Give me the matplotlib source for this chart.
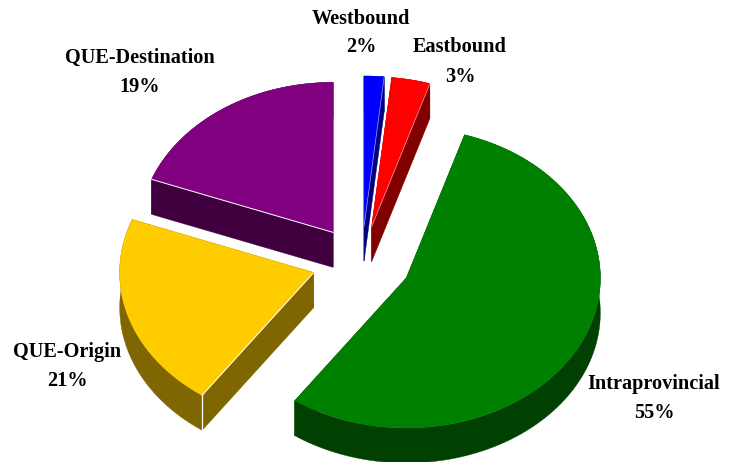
from matplotlib import pyplot as plt
from matplotlib.patches import Polygon
import numpy as np

labels = ['Westbound', 'Eastbound', 'Intraprovincial', 'QUE-Origin', 'QUE-Destination']
# slice sizes, the printed labels are rounded
shares = [1.65, 3.2, 54.9, 21.0, 19.25]
percent_labels = ['2%', '3%', '55%', '21%', '19%']
top_colors = ['#0000ff', '#ff0000', '#008000', '#ffcc00', '#800080']
side_colors = ['#000080', '#800000', '#004000', '#806600', '#400040']

# label centres in pixels, name line then percent line is 29px below
label_pos = [(361, 18.5), (460, 47.5), (654, 383.5), (67, 351.5), (140, 57.5)]

cx, cy = 361.5, 262
rx, ry = 194, 150
explode_x, explode_y = 50, 36
depth = 35

# back slices first so the front ones cover them
draw_order = [4, 0, 1, 3, 2]


def slice_outline(start, end, ox, oy):
    t = np.radians(np.linspace(start, end, 120))
    return ox + rx*np.sin(t), oy - ry*np.cos(t)


fig = plt.figure(figsize=(7.33, 4.62), dpi=100)
ax = fig.add_axes([0, 0, 1, 1])
ax.set_xlim(0, 733)
ax.set_ylim(462, 0)
ax.axis('off')

edges = 360*np.cumsum([0] + shares)/np.sum(shares)

for i in draw_order:
    start, end = edges[i], edges[i+1]
    mid = np.radians((start+end)/2)
    ox = cx + explode_x*np.sin(mid)
    oy = cy - explode_y*np.cos(mid)
    x, y = slice_outline(start, end, ox, oy)

    # sides: two radial walls and the outer rim
    for ex, ey in [(x[0], y[0]), (x[-1], y[-1])]:
        wall = [(ox, oy), (ex, ey), (ex, ey+depth), (ox, oy+depth)]
        ax.add_patch(Polygon(wall, closed=True, fc=side_colors[i], ec=side_colors[i], lw=0.3))
    rim = np.r_[np.c_[x, y], np.c_[x, y+depth][::-1]]
    ax.add_patch(Polygon(rim, closed=True, fc=side_colors[i], ec=side_colors[i], lw=0.3))

    top = np.r_[[[ox, oy]], np.c_[x, y]]
    ax.add_patch(Polygon(top, closed=True, fc=top_colors[i], ec=top_colors[i], lw=0.3))

    # thin white highlight where the top meets a visible wall
    if i == 3:
        ax.plot([ox, x[0]], [oy, y[0]], color='white', lw=0.7)
        ax.plot([x[0], x[0]], [y[0], y[0]+depth], color='white', lw=0.9)
    elif i == 4:
        ax.plot([ox, x[0]], [oy, y[0]], color='white', lw=0.7)
    elif i in (0, 1):
        ax.plot([ox, x[-1]], [oy, y[-1]], color='white', lw=0.5, alpha=0.6)

for name, pct, (lx, ly) in zip(labels, percent_labels, label_pos):
    ax.text(lx, ly, name, ha='center', va='center', family='Liberation Serif',
            weight='bold', fontsize=14.6, color='black')
    ax.text(lx, ly+29, pct, ha='center', va='center', family='Liberation Serif',
            weight='bold', fontsize=14.6, color='black')

fig.savefig('out.png', dpi=100)
